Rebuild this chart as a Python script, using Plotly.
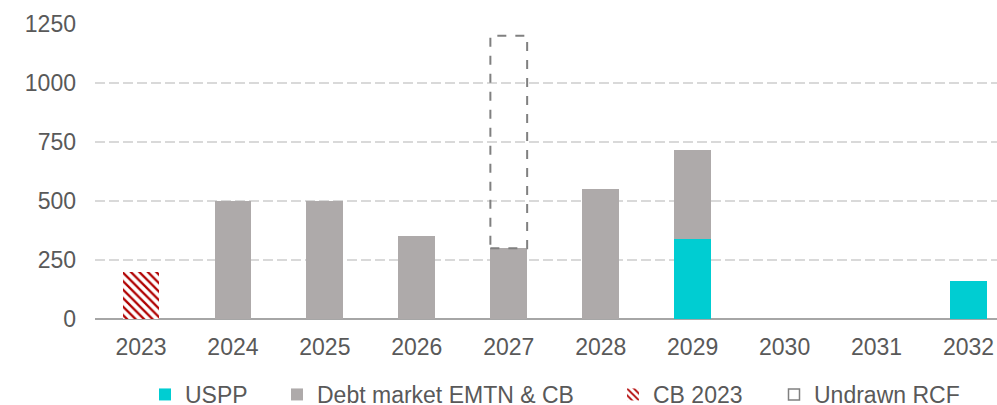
import plotly.graph_objects as go

years = ["2023", "2024", "2025", "2026", "2027", "2028", "2029", "2030", "2031", "2032"]
uspp = [None, None, None, None, None, None, 340, None, None, 160]
debt_market = [None, 500, 500, 350, 300, 550, 375, None, None, None]
cb_2023 = [200, None, None, None, None, None, None, None, None, None]
undrawn_rcf = [None, None, None, None, 900, None, None, None, None, None]
y_ticks = [0, 250, 500, 750, 1000, 1250]

FONT = "Liberation Sans, Arial, sans-serif"
TXT = "#595959"
BAR_W = 0.4
W, H = 997, 405

fig = go.Figure()
fig.add_trace(go.Bar(x=years, y=uspp, name="USPP", width=BAR_W, legend="legend",
                     marker=dict(color="#00CDD2", line=dict(width=0))))
fig.add_trace(go.Bar(x=years, y=debt_market, name="Debt market EMTN & CB", width=BAR_W,
                     legend="legend2", marker=dict(color="#AEAAAA", line=dict(width=0))))
fig.add_trace(go.Bar(x=years, y=cb_2023, name="CB 2023", width=BAR_W, legend="legend3",
                     marker=dict(color="white", line=dict(width=0),
                                 pattern=dict(shape="\\", fgcolor="#B00000", bgcolor="white",
                                              fgopacity=1, size=6, solidity=0.38))))
# legend entry for undrawn RCF
fig.add_trace(go.Scatter(x=[None], y=[None], mode="markers", name="Undrawn RCF",
                         legend="legend4",
                         marker=dict(symbol="square-open", size=11, color="#808080",
                                     line=dict(width=1.5))))

# dashed outline for undrawn RCF, stacked on the drawn amounts
for i, v in enumerate(undrawn_rcf):
    if v is None:
        continue
    base = sum(s[i] or 0 for s in (uspp, debt_market, cb_2023))
    fig.add_shape(type="rect", xref="x", yref="y", x0=i - BAR_W / 2, x1=i + BAR_W / 2,
                  y0=base, y1=base + v, line=dict(color="#808080", width=2, dash="dash"),
                  fillcolor="rgba(0,0,0,0)", layer="above")


def leg(px_x, px_top=373):
    return dict(orientation="h", xref="container", yref="container",
                x=px_x / W, xanchor="left", y=1 - px_top / H, yanchor="top",
                font=dict(family=FONT, size=23, color=TXT),
                itemwidth=30, bgcolor="rgba(0,0,0,0)", borderwidth=0)


fig.update_layout(
    width=W, height=H,
    margin=dict(l=95, r=0, t=24, b=86, autoexpand=False),
    barmode="stack",
    plot_bgcolor="white", paper_bgcolor="white",
    font=dict(family=FONT, size=23, color=TXT),
    showlegend=True,
    legend=leg(145), legend2=leg(277), legend3=leg(613), legend4=leg(774),
    xaxis=dict(type="category", range=[-0.5, 9.31], showgrid=False, automargin=False,
               showline=False, zeroline=False, ticks="", ticklabelstandoff=12,
               tickfont=dict(family=FONT, size=23, color=TXT)),
    yaxis=dict(range=[0, 1250], tickvals=y_ticks, tickformat="d", automargin=False,
               showgrid=True, gridcolor="#D9D9D9", gridwidth=1.5, griddash="10px,4px",
               zeroline=True, zerolinecolor="#A6A6A6", zerolinewidth=2,
               showline=False, ticks="", ticklabelstandoff=18,
               tickfont=dict(family=FONT, size=23, color=TXT)),
)

fig.write_html("out.html", config={"displayModeBar": False},
               post_script="document.body.style.margin='0px';document.body.style.overflow='hidden';")
